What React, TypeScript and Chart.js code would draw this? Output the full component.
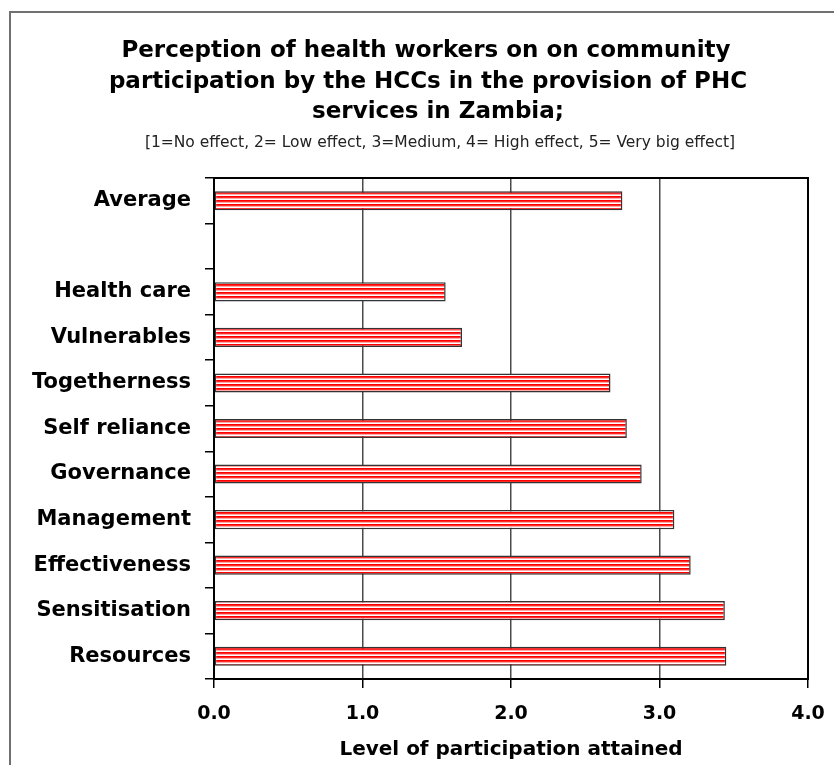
import React, { useEffect, useRef } from 'react';
import { Chart, registerables } from 'chart.js';

Chart.register(...registerables);

const categories = ['Average', '', 'Health care', 'Vulnerables', 'Togetherness', 'Self reliance', 'Governance', 'Management', 'Effectiveness', 'Sensitisation', 'Resources'];
const values = [2.75, null, 1.56, 1.67, 2.67, 2.78, 2.88, 3.10, 3.21, 3.44, 3.45];
const xTicks = [0, 1, 2, 3, 4];
const titleLines = [
  'Perception of health workers on on community',
  'participation by the HCCs in the provision of PHC',
  'services in Zambia;',
];
const subtitle = '[1=No effect, 2= Low effect, 3=Medium, 4= High effect, 5= Very big effect]';
const xTitle = 'Level of participation attained';

const FAMILY = '"DejaVu Sans", "Liberation Sans", sans-serif';

function makePattern(): CanvasPattern | string {
  const c = document.createElement('canvas');
  c.width = 8;
  c.height = 4;
  const g = c.getContext('2d');
  if (!g) return '#ff0000';
  const rows = ['#ff0000', '#ff2a2a', '#ffa8a8', '#ffffff'];
  rows.forEach((col, i) => {
    g.fillStyle = col;
    g.fillRect(0, i, 8, 1);
  });
  return g.createPattern(c, 'repeat') || '#ff0000';
}

const framePlugin = {
  id: 'frameAndTitle',
  beforeDraw(chart: any) {
    const ctx = chart.ctx as CanvasRenderingContext2D;
    ctx.save();
    ctx.fillStyle = '#ffffff';
    ctx.fillRect(0, 0, chart.width, chart.height);
    ctx.strokeStyle = '#707070';
    ctx.lineWidth = 2;
    ctx.beginPath();
    ctx.moveTo(10, chart.height);
    ctx.lineTo(10, 12);
    ctx.lineTo(chart.width, 12);
    ctx.stroke();

    ctx.fillStyle = '#000';
    ctx.textAlign = 'center';
    ctx.textBaseline = 'alphabetic';
    ctx.font = `bold 23px ${FAMILY}`;
    const centers = [426, 428, 438];
    titleLines.forEach((t, i) => ctx.fillText(t, centers[i], 57 + i * 30.5));
    ctx.font = `15.5px ${FAMILY}`;
    ctx.fillStyle = '#222';
    ctx.fillText(subtitle, 440, 147);
    ctx.restore();
  },
  afterDatasetsDraw(chart: any) {
    const { ctx, chartArea } = chart;
    ctx.save();
    ctx.strokeStyle = '#000';
    ctx.lineWidth = 2;
    ctx.strokeRect(chartArea.left, chartArea.top, chartArea.right - chartArea.left, chartArea.bottom - chartArea.top);
    ctx.restore();
  },
};

export default function App() {
  const ref = useRef<HTMLCanvasElement | null>(null);

  useEffect(() => {
    if (!ref.current) return;
    const pattern = makePattern();
    const chart = new Chart(ref.current, {
      type: 'bar',
      data: {
        labels: categories,
        datasets: [
          {
            data: values as any,
            backgroundColor: pattern as any,
            borderColor: '#333333',
            borderWidth: 1.5,
            borderSkipped: false,
            barPercentage: 0.42,
            categoryPercentage: 1,
          },
        ],
      },
      options: {
        indexAxis: 'y',
        responsive: false,
        animation: false,
        devicePixelRatio: 1,
        layout: { padding: { left: 0, right: 26, top: 178, bottom: 0 } },
        plugins: {
          legend: { display: false },
          tooltip: { enabled: false },
          title: { display: false },
        },
        scales: {
          x: {
            type: 'linear',
            position: 'bottom',
            min: 0,
            max: 4,
            afterBuildTicks: (s: any) => {
              s.ticks = xTicks.map((v) => ({ value: v }));
            },
            ticks: {
              callback: (v: any) => Number(v).toFixed(1),
              color: '#000',
              font: { family: FAMILY, weight: 'bold', size: 19 },
              padding: 15,
            },
            grid: { color: '#4a4a4a', lineWidth: 1.5, tickLength: 9, tickColor: '#000', tickWidth: 1.5 },
            border: { display: true, color: '#000', width: 2 },
            title: {
              display: true,
              text: xTitle,
              color: '#000',
              font: { family: FAMILY, weight: 'bold', size: 20, lineHeight: 1.2 },
              padding: { top: 0, bottom: 3 },
            },
            afterFit: (s: any) => {
              s.height = 86;
              s.paddingLeft = 0;
              s.paddingRight = 0;
            },
          },
          y: {
            type: 'category',
            position: 'left',
            ticks: {
              color: '#000',
              font: { family: FAMILY, weight: 'bold', size: 21 },
              padding: 14,
              autoSkip: false,
            },
            grid: { offset: true, drawOnChartArea: false, tickLength: 9, color: '#000', lineWidth: 1.5 },
            border: { display: true, color: '#000', width: 2 },
            afterFit: (s: any) => {
              s.width = 214;
              s.paddingTop = 0;
              s.paddingBottom = 0;
            },
          },
        },
      } as any,
      plugins: [framePlugin],
    });
    return () => chart.destroy();
  }, []);

  return (
    <div style={{ position: 'absolute', left: 0, top: 0, width: 834, height: 765 }}>
      <canvas ref={ref} width={834} height={765} style={{ width: 834, height: 765, display: 'block' }} />
    </div>
  );
}
